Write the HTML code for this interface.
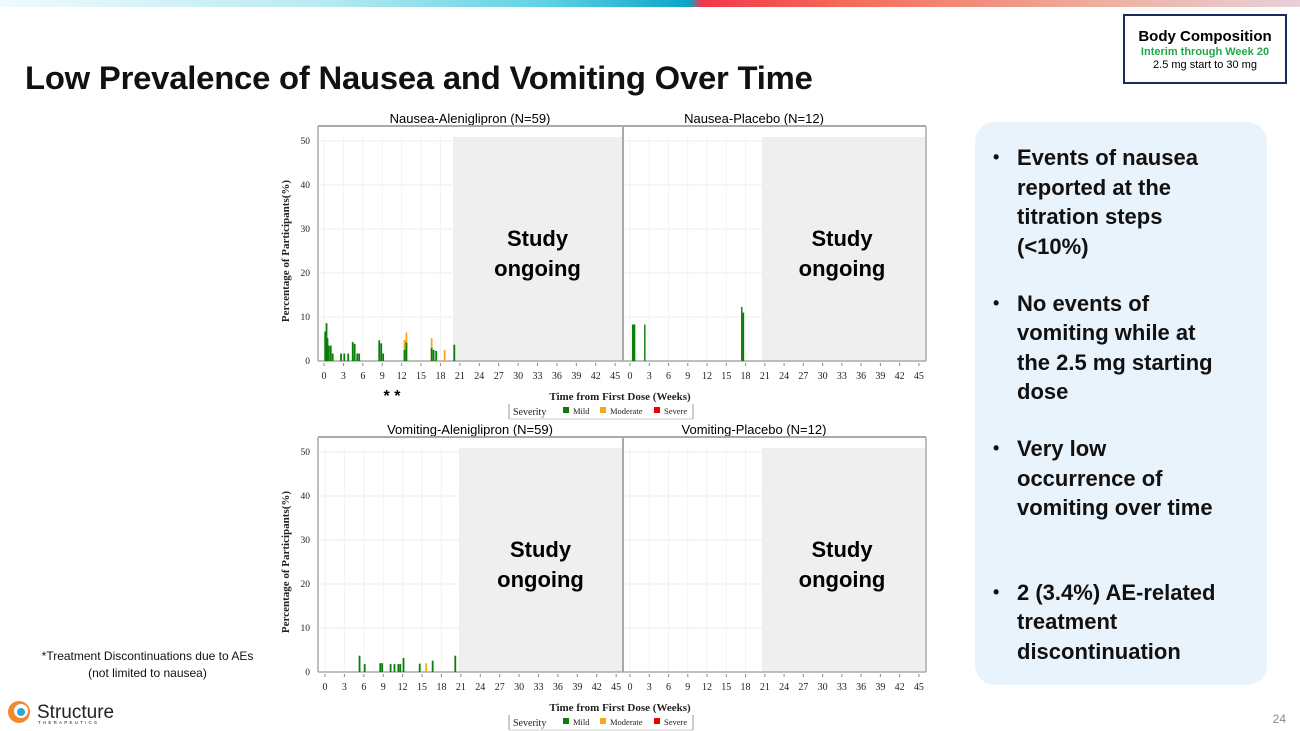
<!DOCTYPE html>
<html><head><meta charset="utf-8">
<style>
body{margin:0;width:1300px;height:731px;overflow:hidden;background:#fff;font-family:"Liberation Sans",sans-serif;position:relative}
.bar{position:absolute;left:0;top:0;width:1300px;height:7px;background:linear-gradient(90deg,#eefbfd 0%,#b8eaf1 25%,#5fd2e3 42%,#0aa4c8 53%,#f2384a 54%,#f66a58 65%,#eeb0a0 85%,#e9d0d8 100%)}
h1{position:absolute;left:25px;top:59px;margin:0;font-size:32.8px;font-weight:bold;color:#111;letter-spacing:-0.2px}
.bc{position:absolute;left:1123px;top:14px;width:164px;height:70px;border:2px solid #1b2a5e;text-align:center;box-sizing:border-box}
.bc b{display:block;font-size:15px;margin-top:12px}
.bc i{display:block;font-style:normal;font-weight:bold;color:#21a84a;font-size:11px;margin-top:1px}
.bc span{display:block;font-size:11px;margin-top:1px}
.info{position:absolute;left:975px;top:122px;width:292px;height:563px;background:#e9f3fb;border-radius:20px}
.info ul{margin:0;padding:0 0 0 42px;list-style:none;width:240px}
.info li{position:relative;font-weight:bold;font-size:22px;line-height:29.5px;color:#111;white-space:nowrap}
.info li:before{content:"•";position:absolute;left:-24px;font-size:18px}
.foot{position:absolute;left:20px;top:648px;width:255px;text-align:center;font-size:12px;line-height:17px;color:#111}
.pg{position:absolute;right:14px;top:712px;font-size:12px;color:#888}
</style></head><body>
<div class="bar"></div>
<h1>Low Prevalence of Nausea and Vomiting Over Time</h1>
<div class="bc"><b>Body Composition</b><i>Interim through Week 20</i><span>2.5 mg start to 30 mg</span></div>
<div class="info"><ul style="padding-top:21px">
<li>Events of nausea<br>reported at the<br>titration steps<br>(&lt;10%)</li>
<li style="margin-top:27.5px">No events of<br>vomiting while at<br>the 2.5 mg starting<br>dose</li>
<li style="margin-top:27.5px">Very low<br>occurrence of<br>vomiting over time</li>
<li style="margin-top:55px">2 (3.4%) AE-related<br>treatment<br>discontinuation</li>
</ul></div>
<div class="foot">*Treatment Discontinuations due to AEs<br>(not limited to nausea)</div>
<svg style="position:absolute;left:0;top:0" width="1300" height="731" id="s"></svg>
<div class="pg">24</div>
<script>
var s=document.getElementById('s'),h='';
function T(x,y,t,o){h+='<text x="'+x+'" y="'+y+'" '+(o||'')+'>'+t+'</text>';}
function R(x,y,w,hh,c){h+='<rect x="'+x+'" y="'+y+'" width="'+w+'" height="'+hh+'" fill="'+c+'"/>';}
function L(a,b,c,d,col,w){h+='<line x1="'+a+'" y1="'+b+'" x2="'+c+'" y2="'+d+'" stroke="'+col+'" stroke-width="'+(w||1)+'"/>';}
var SF='font-family="Liberation Serif" fill="#222"';
function panel(top,lx0,gl,rx0,t1,t2,b1,b2){
 var y0=top+235,sc=4.4;
 T(470,top-3,t1,'text-anchor="middle" font-size="13"');
 T(754,top-3,t2,'text-anchor="middle" font-size="13"');
 for(var v=0;v<=50;v+=10){var y=y0-v*sc;L(318,y,926,y,'#eee');T(310,y+3,v,'text-anchor="end" font-size="9.5" '+SF);}
 for(var p=0;p<2;p++){var x0=p?rx0:lx0,k=p?6.42:6.47;for(var w=0;w<=45;w+=3){var x=x0+w*k;L(x,top+11,x,y0,'#f2f2f2');L(x,y0+2,x,y0+5,'#888');T(x,y0+18,w,'text-anchor="middle" font-size="10" '+SF);}}
 R(gl,top+11,622-gl,y0-top-11,'#efefef');R(762,top+11,163,y0-top-11,'#efefef');
 L(318,top,926,top,'#aaa',2);L(318,top,318,y0,'#aaa',1.5);L(623,top,623,y0,'#aaa',2);L(926,top,926,y0,'#aaa',1.5);L(318,y0,926,y0,'#aaa',1.5);
 b1.forEach(function(b){var x=lx0+b[0]*6.47;R(x,y0-b[1]*sc,b[3]||1.8,b[1]*sc,b[2]||'#0a7d0a');});
 b2.forEach(function(b){var x=rx0+b[0]*6.42;R(x,y0-b[1]*sc,b[3]||1.8,b[1]*sc,b[2]||'#0a7d0a');});
 T(289,y0-110,'Percentage of Participants(%)','transform="rotate(-90 289 '+(y0-110)+')" text-anchor="middle" font-size="11" font-weight="bold" '+SF);
 T(620,y0+39,'Time from First Dose (Weeks)','text-anchor="middle" font-size="11" font-weight="bold" '+SF);
 var ly=y0+43;L(509,ly,509,ly+15,'#999');L(509,ly+15,693,ly+15,'#ccc');L(693,ly,693,ly+15,'#999');
 T(513,ly+11,'Severity','font-size="10" '+SF);
 R(563,ly+3,6,6,'#0a7d0a');T(573,ly+10,'Mild','font-size="8.5" '+SF);
 R(600,ly+3,6,6,'#f5a81d');T(610,ly+10,'Moderate','font-size="8.5" '+SF);
 R(654,ly+3,6,6,'#e00');T(664,ly+10,'Severe','font-size="8.5" '+SF);
 var st='font-size="22" font-weight="bold" text-anchor="middle"';
 T((gl+622)/2,top+120,'Study',st);T((gl+622)/2,top+150,'ongoing',st);
 T(842,top+120,'Study',st);T(842,top+150,'ongoing',st);
}
var G='#0a7d0a',O='#f5a81d';
panel(126,324,453,630,'Nausea-Aleniglipron (N=59)','Nausea-Placebo (N=12)',
[[0.05,6.7],[0.25,8.6],[0.4,5.2],[0.6,3.5],[0.9,3.5],[1.2,1.7],[2.5,1.7],[3.0,1.7],[3.6,1.7],[4.3,4.3],[4.6,3.9],[5.0,1.7],[5.3,1.7],[8.4,4.7],[8.7,4.0],[9.0,1.7],[12.3,4.8,O],[12.3,2.5],[12.6,6.5,O],[12.6,4.2],[16.5,5.2,O],[16.5,3.0],[16.8,2.5],[17.2,2.3],[18.5,2.5,O],[20.0,3.7]],
[[0.3,8.3],[0.55,8.3],[2.2,8.3,G,1.4],[17.3,12.3,G,1.4],[17.5,11]]);
panel(437,325,459,630,'Vomiting-Aleniglipron (N=59)','Vomiting-Placebo (N=12)',
[[5.2,3.7],[6.0,1.8],[8.4,2],[8.7,2],[10.0,1.8],[10.6,1.8],[11.2,1.8],[11.5,1.8],[12.0,3.2],[14.5,1.9],[15.5,2,O],[16.5,2.6],[20.0,3.7]],[]);
T(392,401,'* *','text-anchor="middle" font-size="16" font-weight="bold"');
h+='<circle cx="19" cy="712" r="11" fill="#f28a2e"/><circle cx="21" cy="711" r="7" fill="#fff"/><circle cx="21" cy="712" r="4" fill="#2fa6d9"/>';
T(37,718,'Structure','font-size="19" fill="#222"');T(38,724,'THERAPEUTICS','font-size="4.5" letter-spacing="2.2" fill="#222"');
s.innerHTML=h;
</script>
</body></html>
